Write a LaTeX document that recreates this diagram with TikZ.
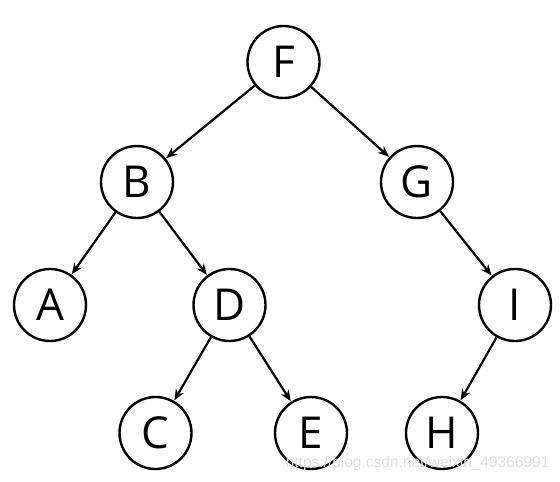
\documentclass[tikz,border=0pt]{standalone}
\usepackage{fontspec}
\setmainfont{Open Sans}
\newfontfamily\wmfont{Liberation Sans}
\usetikzlibrary{arrows.meta}
\begin{document}
\begin{tikzpicture}[x=1pt,y=-1pt,
  vert/.style={circle,draw=black,line width=2.4pt,minimum size=72pt,inner sep=0pt,font=\fontsize{44}{44}\selectfont},
  edge/.style={line width=2.2pt,-{Stealth[length=11pt,width=9pt]},shorten >=0.5pt}]
\useasboundingbox (0,0) rectangle (560,482);
\node[vert] (F) at (283.5,62) {F};
\node[vert] (B) at (137,182) {B};
\node[vert] (G) at (417,182) {G};
\node[vert] (A) at (50,305) {A};
\node[vert] (D) at (229.5,305) {D};
\node[vert] (I) at (515,305) {I};
\node[vert] (C) at (155.5,433) {C};
\node[vert] (E) at (311,433) {E};
\node[vert] (H) at (442,433) {H};
\draw[edge] (F) -- (B);
\draw[edge] (F) -- (G);
\draw[edge] (B) -- (A);
\draw[edge] (B) -- (D);
\draw[edge] (G) -- (I);
\draw[edge] (D) -- (C);
\draw[edge] (D) -- (E);
\draw[edge] (I) -- (H);
\node[text=black!12,font=\wmfont\fontsize{15.5}{15.5}\selectfont,anchor=east] (wm) at (553,463) {https://blog.csdn.net/weixin\_49366991};
\end{tikzpicture}
\end{document}
